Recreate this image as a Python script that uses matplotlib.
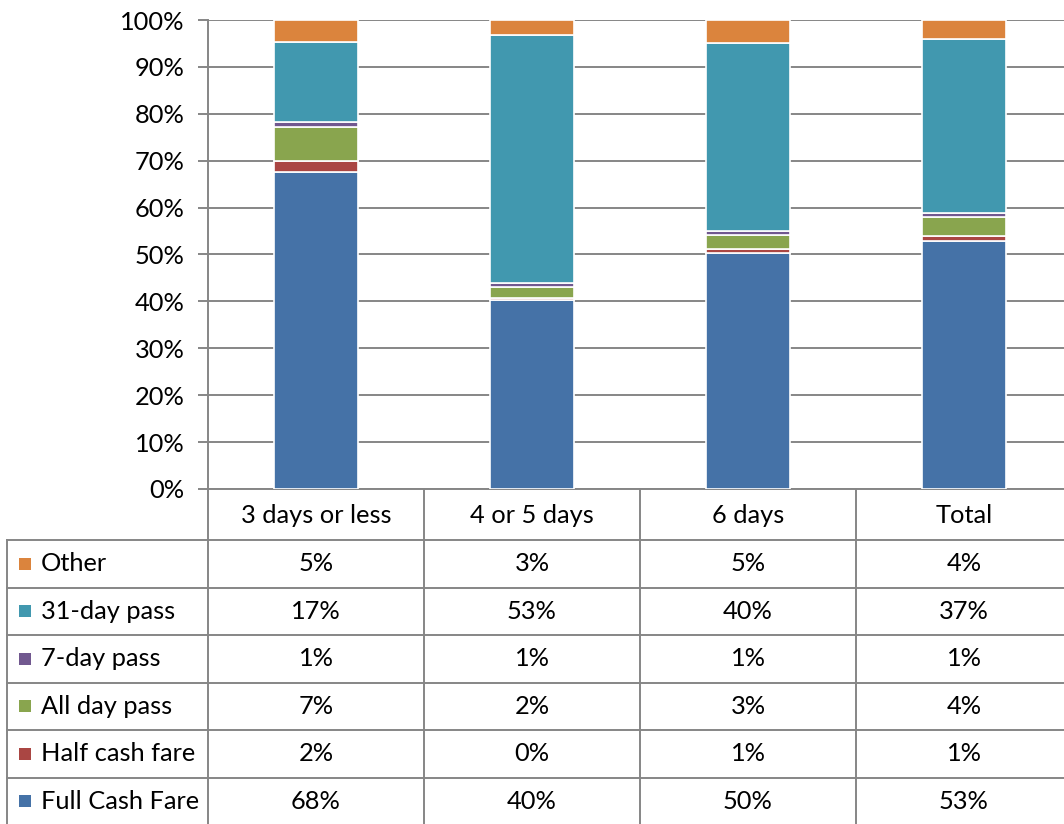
import matplotlib.pyplot as plt
from matplotlib.patches import Rectangle

plt.rcParams['font.family'] = ['Lato', 'DejaVu Sans']

# fare mix (%) by days travelled per week
categories = ["3 days or less", "4 or 5 days", "6 days", "Total"]
fare_types = ["Full Cash Fare", "Half cash fare", "All day pass", "7-day pass", "31-day pass", "Other"]
full_cash = [67.6, 40.4, 50.4, 52.9]
half_cash = [2.3, 0.3, 0.8, 1.0]
all_day = [7.3, 2.3, 3.0, 4.1]
seven_day = [1.1, 0.9, 0.9, 0.9]
thirty_one_day = [17.1, 52.9, 39.9, 37.0]
other = [4.6, 3.2, 5.0, 4.1]
colors = ["#4572A7", "#AA4643", "#89A54E", "#71588F", "#4198AF", "#DB843D"]

series = [full_cash, half_cash, all_day, seven_day, thirty_one_day, other]
grid_col = "#868686"
fs = 18.3

W, H = 1064, 824
fig = plt.figure(figsize=(W / 100, H / 100), dpi=100)

# chart area in pixels
left, top, bottom, col_w = 208, 20, 489, 216
ax = fig.add_axes([left / W, (H - bottom) / H, 4 * col_w / W, (bottom - top) / H])

x = range(len(categories))
base = [0.0] * len(categories)
for vals, c in zip(series, colors):
    ax.bar(x, vals, 0.39, bottom=base, color=c, edgecolor="white", linewidth=1.2, zorder=3)
    base = [b + v for b, v in zip(base, vals)]

ax.set_xlim(-0.5, 3.5)
ax.set_ylim(0, 100)
ax.set_yticks(range(0, 101, 10))
ax.set_yticklabels([f"{t}%" for t in range(0, 101, 10)], fontsize=fs)
ax.set_xticks([])
ax.yaxis.grid(True, color=grid_col, lw=1.4)
ax.set_axisbelow(True)
ax.tick_params(axis="y", length=7, width=1.4, color=grid_col, pad=10)
for s in ["top", "right"]:
    ax.spines[s].set_visible(False)
for s in ["left", "bottom"]:
    ax.spines[s].set_color(grid_col)
    ax.spines[s].set_linewidth(1.4)

# data table below the chart, drawn in pixel coordinates
tax = fig.add_axes([0, 0, 1, 1], facecolor="none")
tax.set_xlim(0, W)
tax.set_ylim(H, 0)
tax.axis("off")

table_left = 7
row_h = 47.5
header_bottom = 540
lw = 1.4

for i, cat in enumerate(categories):
    cx = left + col_w * (i + 0.5)
    tax.text(cx, (bottom + header_bottom) / 2 + 1, cat, ha="center", va="center", fontsize=fs)

for i in range(1, 5):
    xv = left + col_w * i
    tax.plot([xv, xv], [bottom, H], color=grid_col, lw=lw)
tax.plot([left, left], [bottom, H], color=grid_col, lw=lw)
tax.plot([table_left, table_left], [header_bottom, H], color=grid_col, lw=lw)

rows = list(zip(fare_types, series, colors))[::-1]
for r, (name, vals, c) in enumerate(rows):
    y0 = header_bottom + r * row_h
    tax.plot([table_left, W], [y0, y0], color=grid_col, lw=lw)
    yc = y0 + row_h / 2
    tax.add_patch(Rectangle((19, yc - 6), 12, 12, facecolor=c, edgecolor="none"))
    tax.text(41, yc, name, ha="left", va="center", fontsize=fs)
    for i, v in enumerate(vals):
        tax.text(left + col_w * (i + 0.5), yc, f"{v:.0f}%", ha="center", va="center", fontsize=fs)

fig.savefig("out.png", dpi=100)
